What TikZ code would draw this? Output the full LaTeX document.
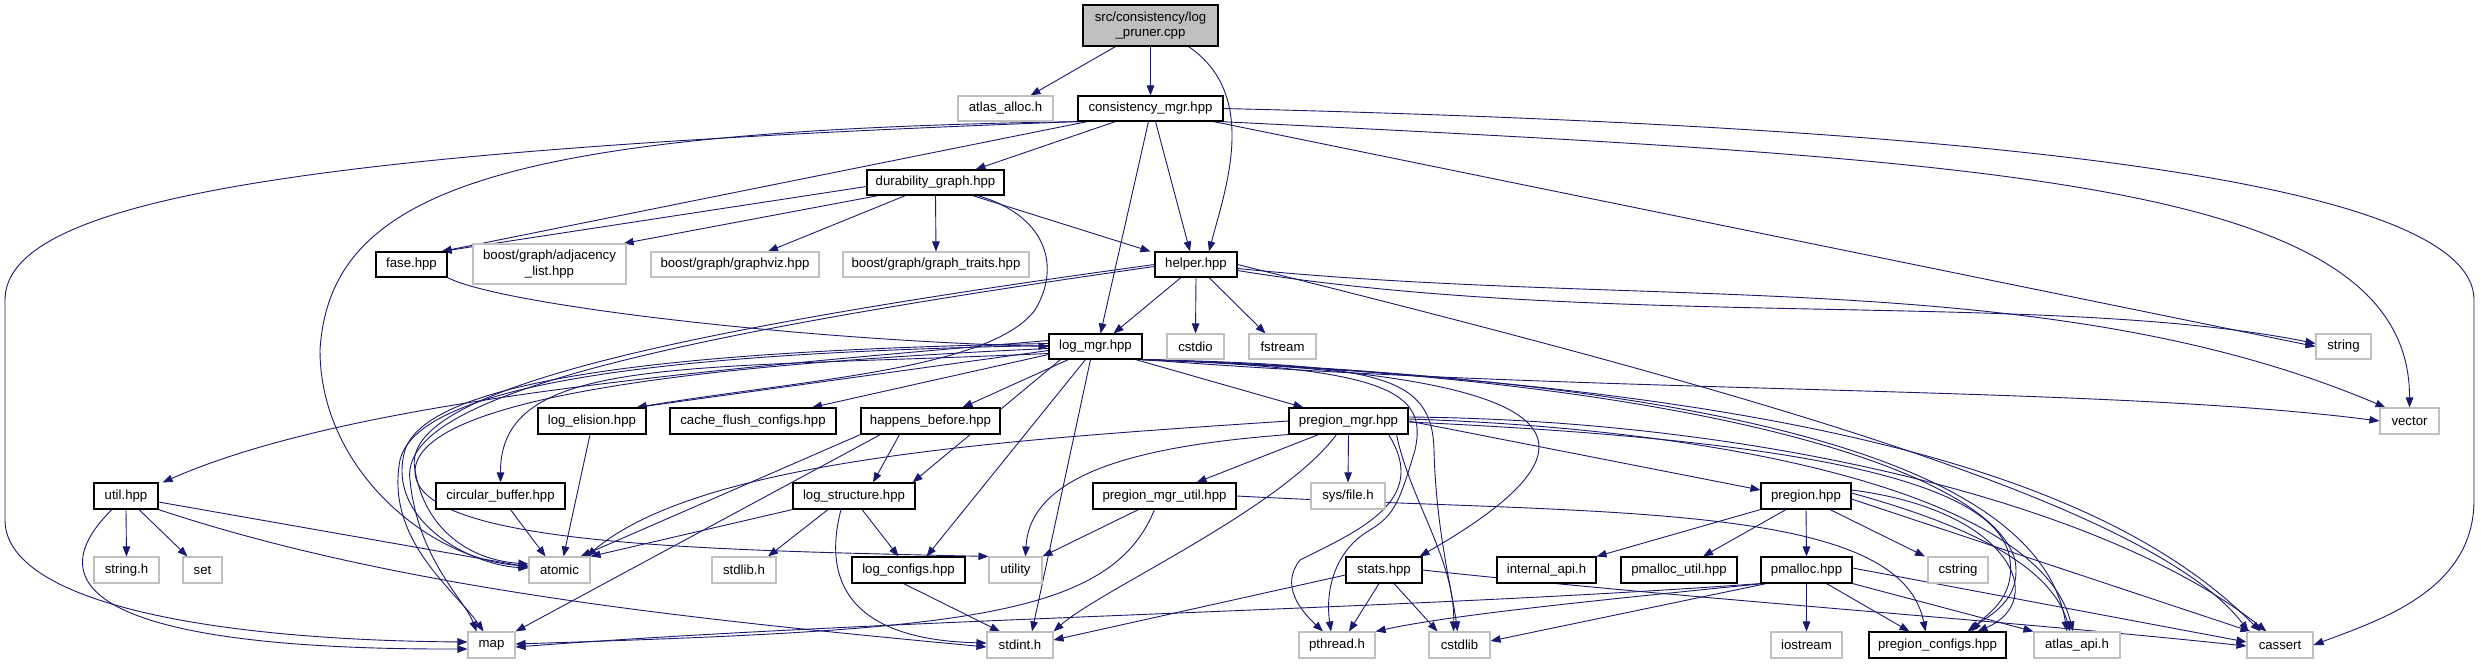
\documentclass[tikz,border=0pt]{standalone}
\usepackage{fontspec}
\setmainfont{Liberation Sans}
\usetikzlibrary{arrows.meta}
\definecolor{edgec}{HTML}{191970}
\definecolor{grayb}{HTML}{BFBFBF}
\pgfdeclarelayer{bg}
\pgfsetlayers{bg,main}
\tikzset{
  box/.style={rectangle, inner sep=0pt, font=\fontsize{13.2}{15.5}\selectfont, align=center, line width=1.1pt},
  docbox/.style={box, draw=black, fill=white},
  extbox/.style={box, draw=grayb, fill=white},
  rootbox/.style={box, draw=black, fill=grayb},
  dep/.style={draw=edgec, line width=0.9pt, -{Triangle[length=10pt,width=7.5pt]}},
}
\newcommand{\mynode}[7]{\node[#1,minimum width={#4-#3},minimum height={#6-#5}] (#2) at ({(#3+#4)/2},{(#5+#6)/2}) {#7};}
\begin{document}
\begin{tikzpicture}[x=1pt,y=-1pt]
\useasboundingbox (0,0) rectangle (2481,664);
\begin{pgfonlayer}{bg}
\fill[white] (0,0) rectangle (2481,664);
\end{pgfonlayer}
% row 1-2
\mynode{rootbox}{pruner}{1083}{1218}{5}{46}{src/consistency/log\\\_pruner.cpp}
\mynode{extbox}{alloc}{958}{1053}{96}{121}{atlas\_alloc.h}
\mynode{docbox}{cmgr}{1078}{1223}{96}{121}{consistency\_mgr.hpp}
\mynode{docbox}{dgraph}{867}{1004}{170}{195}{durability\_graph.hpp}
% row 4
\mynode{docbox}{fase}{376}{447}{252}{277}{fase.hpp}
\mynode{extbox}{adj}{473}{626}{244}{284}{boost/graph/adjacency\\\_list.hpp}
\mynode{extbox}{gviz}{651}{819}{252}{277}{boost/graph/graphviz.hpp}
\mynode{extbox}{gtraits}{843}{1029}{252}{277}{boost/graph/graph\_traits.hpp}
\mynode{docbox}{helper}{1155}{1237}{252}{277}{helper.hpp}
% row 5
\mynode{docbox}{logmgr}{1049}{1142}{334}{359}{log\_mgr.hpp}
\mynode{extbox}{cstdio}{1167}{1224}{334}{359}{cstdio}
\mynode{extbox}{fstream}{1249}{1316}{334}{359}{fstream}
\mynode{extbox}{string}{2316}{2371}{334}{359}{string}
% row 6
\mynode{docbox}{elision}{538}{646}{408}{434}{log\_elision.hpp}
\mynode{docbox}{cflush}{670}{836}{408}{434}{cache\_flush\_configs.hpp}
\mynode{docbox}{hb}{861}{1000}{408}{434}{happens\_before.hpp}
\mynode{docbox}{pmgr}{1289}{1408}{408}{434}{pregion\_mgr.hpp}
\mynode{extbox}{vector}{2380}{2439}{408}{434}{vector}
% row 7
\mynode{docbox}{util}{94}{158}{483}{509}{util.hpp}
\mynode{docbox}{cbuf}{436}{565}{483}{509}{circular\_buffer.hpp}
\mynode{docbox}{lstruct}{793}{915}{483}{509}{log\_structure.hpp}
\mynode{docbox}{pmutil}{1093}{1236}{483}{509}{pregion\_mgr\_util.hpp}
\mynode{extbox}{sysfile}{1311}{1385}{483}{509}{sys/file.h}
\mynode{docbox}{pregion}{1761}{1851}{483}{509}{pregion.hpp}
% row 8
\mynode{extbox}{stringh}{94}{159}{557}{583}{string.h}
\mynode{extbox}{set}{183}{222}{557}{583}{set}
\mynode{extbox}{atomic}{529}{590}{557}{583}{atomic}
\mynode{extbox}{stdlibh}{712}{776}{557}{583}{stdlib.h}
\mynode{docbox}{lconf}{852}{965}{557}{583}{log\_configs.hpp}
\mynode{extbox}{utility}{989}{1042}{557}{583}{utility}
\mynode{docbox}{stats}{1346}{1422}{557}{583}{stats.hpp}
\mynode{docbox}{iapi}{1497}{1596}{557}{583}{internal\_api.h}
\mynode{docbox}{pmautil}{1621}{1737}{557}{583}{pmalloc\_util.hpp}
\mynode{docbox}{pmalloc}{1761}{1852}{557}{583}{pmalloc.hpp}
\mynode{extbox}{cstring}{1928}{1988}{557}{583}{cstring}
% row 9
\mynode{extbox}{map}{468}{515}{632}{658}{map}
\mynode{extbox}{stdint}{987}{1053}{632}{658}{stdint.h}
\mynode{extbox}{pthread}{1299}{1375}{632}{658}{pthread.h}
\mynode{extbox}{cstdlib}{1429}{1490}{632}{658}{cstdlib}
\mynode{extbox}{iostream}{1771}{1842}{632}{658}{iostream}
\mynode{docbox}{pconf}{1869}{2006}{632}{658}{pregion\_configs.hpp}
\mynode{extbox}{atlasapi}{2034}{2120}{632}{658}{atlas\_api.h}
\mynode{extbox}{cassert}{2247}{2313}{632}{658}{cassert}

\begin{pgfonlayer}{bg}
% log_pruner.cpp
\draw[dep] ([xshift=-35pt]pruner.south) -- ([xshift=25pt]alloc.north);
\draw[dep] (pruner.south) -- (cmgr.north);
\draw[dep] ([xshift=38pt]pruner.south) .. controls (1260,95) and (1225,190) .. ([xshift=13pt]helper.north);
% consistency_mgr.hpp
\draw[dep] ([xshift=2pt]cmgr.south west) .. controls (300,150) and (5,200) .. (5,300) -- (5,520) .. controls (5,600) and (200,640) .. ([yshift=3pt]map.west);
\draw[dep] ([xshift=6pt]cmgr.south west) .. controls (500,130) and (330,190) .. (320,350) .. controls (320,470) and (430,560) .. ([yshift=4pt]atomic.west);
\draw[dep] ([xshift=10pt]cmgr.south west) -- ([xshift=-6pt]fase.north east);
\draw[dep] ([xshift=-35pt]cmgr.south) -- ([xshift=40pt]dgraph.north);
\draw[dep] ([xshift=-2pt]cmgr.south) -- ([xshift=5pt]logmgr.north);
\draw[dep] ([xshift=5pt]cmgr.south) -- ([xshift=-6pt]helper.north);
\draw[dep] ([xshift=-10pt]cmgr.south east) -- (string.west);
\draw[dep] ([xshift=-4pt]cmgr.south east) .. controls (2000,160) and (2410,180) .. (vector.north);
\draw[dep] (cmgr.east) .. controls (1900,125) and (2474,170) .. (2474,300) -- (2474,500) .. controls (2474,590) and (2380,620) .. (cassert.east);
% durability_graph.hpp
\draw[dep] ([yshift=-4pt]dgraph.west) -- ([xshift=-6pt]fase.north east);
\draw[dep] ([xshift=-57pt]dgraph.south) -- ([xshift=-3pt]adj.north east);
\draw[dep] ([xshift=-30pt]dgraph.south) -- ([xshift=33pt]gviz.north);
\draw[dep] (dgraph.south) -- (gtraits.north);
\draw[dep] ([xshift=37pt]dgraph.south) -- ([xshift=-4pt]helper.north west);
\draw[dep] ([xshift=42pt]dgraph.south) .. controls (1045,215) and (1062,265) .. (1035,310) .. controls (990,370) and (800,380) .. ([xshift=-10pt]elision.north east);
% fase.hpp
\draw[dep] (fase.south east) .. controls (500,305) and (800,340) .. (logmgr.west);
% helper.hpp
\draw[dep] ([xshift=-15pt]helper.south) -- ([xshift=18pt]logmgr.north);
\draw[dep] (helper.south) -- (cstdio.north);
\draw[dep] ([xshift=13pt]helper.south) -- ([xshift=-17pt]fstream.north);
\draw[dep] ([yshift=-6pt]helper.east) .. controls (1600,330) and (2050,290) .. ([yshift=3pt]string.west);
\draw[dep] ([yshift=-4pt]helper.east) .. controls (1650,310) and (2050,265) .. ([xshift=6pt]vector.north west);
\draw[dep] (helper.east) .. controls (1700,380) and (2150,500) .. ([xshift=2pt]cassert.north west);
\draw[dep] (helper.west) .. controls (600,340) and (400,400) .. (415,470) .. controls (425,530) and (470,560) .. ([yshift=6pt]atomic.west);
\draw[dep] ([yshift=-2pt]helper.west) .. controls (600,345) and (400,405) .. (410,480) .. controls (418,560) and (465,600) .. ([xshift=-15pt]map.north);
% log_mgr.hpp
\draw[dep] ([yshift=-4pt]logmgr.west) -- ([xshift=-10pt]elision.north east);
\draw[dep] ([yshift=-8pt]logmgr.west) -- ([xshift=59pt]cflush.north);
\draw[dep] ([xshift=-27pt]logmgr.south) -- ([xshift=32pt]hb.north);
\draw[dep] ([xshift=40pt]logmgr.south) -- ([xshift=-45pt]pmgr.north);
\draw[dep] ([yshift=6pt]logmgr.west) .. controls (700,370) and (350,400) .. ([xshift=4pt]util.north east);
\draw[dep] ([yshift=-7pt]logmgr.west) .. controls (680,370) and (500,355) .. (cbuf.north);
\draw[dep] ([xshift=-35pt]logmgr.south) -- ([xshift=-3pt]lstruct.north east);
\draw[dep] ([xshift=-10pt]logmgr.south) -- ([xshift=18pt]lconf.north);
\draw[dep] ([xshift=-5pt]logmgr.south) -- ([xshift=12pt]stdint.north);
\draw[dep] ([yshift=3pt]logmgr.west) .. controls (700,350) and (430,375) .. (405,450) .. controls (385,520) and (470,565) .. ([yshift=2pt]atomic.west);
\draw[dep] ([yshift=1pt]logmgr.west) .. controls (700,352) and (420,378) .. (400,460) .. controls (385,540) and (455,590) .. ([xshift=-8pt]map.north);
\draw[dep] ([yshift=-2pt]logmgr.west) .. controls (680,365) and (420,400) .. (415,470) .. controls (412,545) and (700,550) .. (utility.north west);
\draw[dep] (logmgr.south east) .. controls (1600,395) and (2100,385) .. (vector.west);
\draw[dep] (logmgr.south east) .. controls (1550,372) and (1640,430) .. ([xshift=-3pt]stats.north east);
\draw[dep] (logmgr.south east) .. controls (1380,365) and (1432,375) .. (1434,450) .. controls (1436,530) and (1452,590) .. ([xshift=-2pt]cstdlib.north);
\draw[dep] (logmgr.south east) .. controls (1390,368) and (1428,392) .. (1415,450) .. controls (1400,500) and (1395,515) .. (1370,530) .. controls (1335,550) and (1325,590) .. ([xshift=-6pt]pthread.north);
\draw[dep] (logmgr.south east) .. controls (1700,378) and (1990,470) .. (2015,560) .. controls (2022,600) and (1990,615) .. ([xshift=30pt]pconf.north);
\draw[dep] (logmgr.south east) .. controls (1750,380) and (2040,470) .. ([xshift=-10pt]atlasapi.north);
\draw[dep] (logmgr.south east) .. controls (1780,385) and (2100,470) .. ([xshift=14pt]cassert.north west);
% pregion_mgr.hpp
\draw[dep] (pmgr.west) .. controls (1000,440) and (700,460) .. ([xshift=-4pt]atomic.north east);
\draw[dep] (pmgr.south west) .. controls (1150,445) and (1030,470) .. ([xshift=10pt]utility.north);
\draw[dep] ([xshift=-30pt]pmgr.south) -- ([xshift=32pt]pmutil.north);
\draw[dep] (pmgr.south) -- (sysfile.north);
\draw[dep] ([xshift=-12pt]pmgr.south) .. controls (1280,510) and (1100,590) .. (stdint.north east);
\draw[dep] ([xshift=40pt]pmgr.south) .. controls (1430,500) and (1360,530) .. (1300,560) .. controls (1280,585) and (1300,610) .. ([xshift=-14pt]pthread.north);
\draw[dep] ([xshift=48pt]pmgr.south) .. controls (1410,500) and (1455,560) .. ([xshift=-6pt]cstdlib.north);
\draw[dep] (pmgr.east) -- ([yshift=6pt]pregion.west);
\draw[dep] ([yshift=4pt]pmgr.east) .. controls (1750,420) and (2100,500) .. ([xshift=20pt]cassert.north west);
\draw[dep] ([yshift=2pt]pmgr.east) .. controls (1750,430) and (2040,500) .. ([xshift=-4pt]atlasapi.north);
\draw[dep] ([yshift=-1pt]pmgr.east) .. controls (1800,440) and (2000,480) .. (2010,560) .. controls (2015,600) and (1985,615) .. ([xshift=34pt]pconf.north);
% pregion_mgr_util.hpp
\draw[dep] ([xshift=-26pt]pmutil.south) -- (utility.north east);
\draw[dep] ([xshift=-10pt]pmutil.south) .. controls (1110,620) and (950,630) .. ([yshift=1pt]map.east);
\draw[dep] (pmutil.east) .. controls (1600,515) and (1900,500) .. ([xshift=-12pt]pconf.north);
% pregion.hpp
\draw[dep] (pregion.south west) -- (iapi.north east);
\draw[dep] ([xshift=-20pt]pregion.south) -- ([xshift=24pt]pmautil.north);
\draw[dep] (pregion.south) -- (pmalloc.north);
\draw[dep] ([xshift=24pt]pregion.south) -- ([xshift=-33pt]cstring.north);
\draw[dep] ([yshift=-3pt]pregion.east) -- ([xshift=4pt]cassert.north west);
\draw[dep] ([yshift=3pt]pregion.east) .. controls (1950,520) and (2050,560) .. ([xshift=-7pt]atlasapi.north);
\draw[dep] ([yshift=6pt]pregion.east) .. controls (2010,510) and (2050,600) .. ([xshift=40pt]pconf.north);
% pmalloc.hpp
\draw[dep] (pmalloc.south) -- (iostream.north);
\draw[dep] ([xshift=20pt]pmalloc.south) -- ([xshift=-28pt]pconf.north);
\draw[dep] (pmalloc.south east) -- (atlasapi.north west);
\draw[dep] ([yshift=2pt]pmalloc.east) -- ([yshift=3pt]cassert.west);
\draw[dep] (pmalloc.south west) .. controls (1400,610) and (900,618) .. ([yshift=-2pt]map.east);
\draw[dep] ([xshift=3pt]pmalloc.south west) .. controls (1600,600) and (1450,615) .. (pthread.north east);
\draw[dep] ([xshift=6pt]pmalloc.south west) -- ([yshift=4pt]cstdlib.east);
% stats.hpp
\draw[dep] ([yshift=-5pt]stats.west) -- ([yshift=5pt]stdint.east);
\draw[dep] ([xshift=-5pt]stats.south) -- ([xshift=12pt]pthread.north);
\draw[dep] ([xshift=10pt]stats.south) -- ([xshift=-22pt]cstdlib.north);
\draw[dep] (stats.east) .. controls (1700,600) and (2000,620) .. ([yshift=-1pt]cassert.west);
% log_configs, log_structure, happens_before
\draw[dep] ([xshift=-5pt]lconf.south) -- ([xshift=-20pt]stdint.north);
\draw[dep] (lstruct.south west) -- (atomic.north east);
\draw[dep] ([xshift=-26pt]lstruct.south) -- ([xshift=24pt]stdlibh.north);
\draw[dep] ([xshift=8pt]lstruct.south) -- ([xshift=-10pt]lconf.north);
\draw[dep] ([xshift=-13pt]lstruct.south) .. controls (820,590) and (860,640) .. ([yshift=2pt]stdint.west);
\draw[dep] ([xshift=-31pt]hb.south) -- ([xshift=19pt]lstruct.north);
\draw[dep] (hb.south west) -- ([xshift=-10pt]atomic.north east);
\draw[dep] ([xshift=-50pt]hb.south) -- (map.north east);
% log_elision, circular_buffer, util
\draw[dep] ([xshift=-2pt]elision.south) -- ([xshift=4pt]atomic.north);
\draw[dep] ([xshift=10pt]cbuf.south) -- ([xshift=-14pt]atomic.north);
\draw[dep] (util.south) -- (stringh.north);
\draw[dep] ([xshift=13pt]util.south) -- ([xshift=-15pt]set.north);
\draw[dep] ([yshift=-6pt]util.east) -- ([yshift=3pt]atomic.west);
\draw[dep] (util.south east) .. controls (400,590) and (700,620) .. ([yshift=-2pt]stdint.west);
\draw[dep] ([xshift=-14pt]util.south) .. controls (40,580) and (80,650) .. ([yshift=-4pt]map.west);
\end{pgfonlayer}
\end{tikzpicture}
\end{document}
